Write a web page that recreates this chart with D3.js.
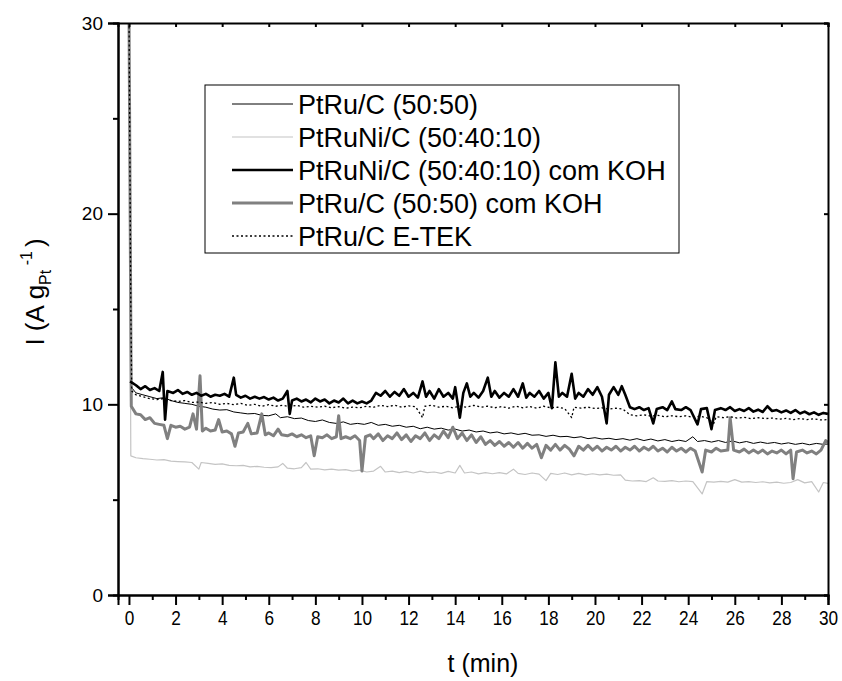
<!DOCTYPE html>
<html>
<head>
<meta charset="utf-8">
<script src="https://cdnjs.cloudflare.com/ajax/libs/d3/7.8.5/d3.min.js"></script>
<style>
  body { margin: 0; background: #fff; }
  text { font-family: "Liberation Sans", Arial, sans-serif; fill: #000; }
</style>
</head>
<body>
<div id="chart"></div>
<script>
// chart data: [t (min), I (A/gPt)]
var seriesNames = ["PtRu/C (50:50)", "PtRuNi/C (50:40:10)", "PtRuNi/C (50:40:10) com KOH", "PtRu/C (50:50) com KOH", "PtRu/C E-TEK"];

var ptru = [[0,31],[0.1,10.9],[0.3,10.6],[0.6,10.5],[0.9,10.4],[1.2,10.3],[1.5,10.35],[1.8,10.2],[2.1,10.1],[2.4,10.05],[2.7,10.0],[3.0,9.9],[3.3,9.85],[3.6,9.75],[3.9,9.7],[4.2,9.72],[4.5,9.6],[4.8,9.55],[5.1,9.5],[5.4,9.52],[5.7,9.42],[6.0,9.4],[6.3,9.5],[6.5,9.3],[6.8,9.35],[7.1,9.25],[7.4,9.28],[7.7,9.15],[8.0,9.1],[8.3,9.18],[8.6,9.05],[8.9,9.0],[9.2,9.08],[9.5,8.95],[9.8,9.0],[10.1,8.95],[10.4,9.05],[10.7,8.9],[11.0,8.95],[11.3,8.85],[11.6,8.9],[11.9,8.8],[12.2,8.85],[12.5,8.72],[12.8,8.8],[13.1,8.7],[13.4,8.75],[13.7,8.65],[14.0,8.7],[14.3,8.6],[14.6,8.65],[14.9,8.55],[15.2,8.6],[15.5,8.5],[15.8,8.55],[16.1,8.45],[16.4,8.5],[16.7,8.42],[17.0,8.48],[17.3,8.38],[17.6,8.4],[17.9,8.32],[18.2,8.38],[18.5,8.3],[18.8,8.32],[19.1,8.25],[19.4,8.3],[19.7,8.2],[20.0,8.25],[20.3,8.18],[20.6,8.22],[20.9,8.15],[21.2,8.2],[21.5,8.12],[21.8,8.2],[22.1,8.1],[22.4,8.18],[22.7,8.08],[23.0,8.15],[23.3,8.05],[23.6,8.12],[23.9,8.05],[24.2,8.3],[24.4,8.05],[24.7,8.1],[25.0,8.02],[25.3,8.1],[25.6,8.0],[25.9,8.08],[26.2,7.98],[26.5,8.05],[26.8,7.95],[27.1,8.02],[27.4,7.95],[27.7,8.0],[28.0,7.92],[28.3,7.98],[28.6,7.9],[28.9,7.96],[29.2,7.88],[29.5,7.95],[29.8,7.9],[30,7.92]];

var ptruni = [[0,31],[0.08,7.3],[0.3,7.2],[0.6,7.15],[0.9,7.12],[1.2,7.08],[1.5,7.1],[1.8,7.02],[2.1,7.0],[2.4,6.98],[2.7,6.95],[3.0,6.6],[3.1,6.95],[3.4,6.9],[3.7,6.85],[4.0,6.88],[4.3,6.8],[4.6,6.78],[4.9,6.8],[5.2,6.72],[5.5,6.75],[5.8,6.7],[6.1,6.68],[6.4,6.72],[6.6,6.9],[6.8,6.65],[7.1,6.62],[7.4,6.68],[7.6,6.95],[7.8,6.6],[8.1,6.62],[8.4,6.56],[8.7,6.6],[9.0,6.55],[9.3,6.58],[9.6,6.5],[9.9,6.55],[10.2,6.45],[10.5,6.5],[10.8,6.75],[11.0,6.45],[11.3,6.5],[11.6,6.42],[11.9,6.48],[12.2,6.4],[12.5,6.5],[12.8,6.42],[13.1,6.45],[13.4,6.38],[13.7,6.48],[14.0,6.4],[14.2,6.8],[14.4,6.4],[14.7,6.45],[15.0,6.35],[15.3,6.42],[15.6,6.36],[15.9,6.42],[16.2,6.35],[16.5,6.6],[16.7,6.38],[17.0,6.32],[17.3,6.4],[17.6,6.34],[17.9,6.0],[18.1,6.38],[18.4,6.32],[18.7,6.4],[19.0,6.3],[19.3,6.38],[19.6,6.3],[19.9,6.36],[20.2,6.3],[20.5,6.34],[20.8,6.28],[21.1,6.3],[21.3,6.02],[21.6,5.98],[21.9,6.0],[22.2,5.95],[22.5,6.15],[22.7,5.98],[23.0,5.96],[23.3,6.0],[23.6,5.94],[23.9,5.98],[24.2,5.95],[24.6,5.3],[24.8,5.95],[25.1,5.92],[25.4,5.96],[25.7,5.92],[26.0,6.05],[26.3,5.92],[26.6,5.95],[26.9,5.9],[27.2,5.94],[27.5,5.88],[27.8,5.92],[28.1,5.86],[28.4,5.9],[28.7,6.05],[29.0,5.88],[29.3,5.95],[29.6,5.4],[29.8,5.9],[30,5.85]];

var ptruniKoh = [[0.05,11.2],[0.3,11.0],[0.5,10.8],[0.7,10.95],[0.9,10.75],[1.1,10.85],[1.3,10.7],[1.45,11.7],[1.55,9.2],[1.65,10.7],[1.9,10.6],[2.1,10.75],[2.3,10.55],[2.5,10.65],[2.7,10.5],[2.9,10.6],[3.1,10.45],[3.3,10.55],[3.5,10.4],[3.7,10.5],[3.9,10.45],[4.1,10.55],[4.3,10.4],[4.5,11.4],[4.6,10.5],[4.8,10.35],[5.0,10.45],[5.2,10.3],[5.4,10.4],[5.6,10.3],[5.8,10.38],[6.0,10.25],[6.2,10.35],[6.4,10.2],[6.6,10.3],[6.8,10.7],[6.9,9.5],[7.0,10.2],[7.2,10.3],[7.4,10.15],[7.6,10.25],[7.8,10.1],[8.0,10.3],[8.2,10.15],[8.4,10.25],[8.6,10.05],[8.8,10.2],[9.0,10.1],[9.2,10.3],[9.4,10.05],[9.6,10.2],[9.8,10.05],[10.0,10.15],[10.2,10.05],[10.4,10.2],[10.6,10.6],[10.8,10.45],[11.0,10.7],[11.2,10.4],[11.4,10.65],[11.6,10.45],[11.8,10.8],[12.0,10.4],[12.2,10.6],[12.4,10.35],[12.6,11.2],[12.75,10.4],[12.9,10.7],[13.1,10.3],[13.3,10.8],[13.5,10.4],[13.7,10.6],[13.9,10.3],[14.0,10.9],[14.2,9.3],[14.35,10.6],[14.5,11.1],[14.65,10.4],[14.8,10.6],[15.0,10.35],[15.2,10.7],[15.4,11.4],[15.55,10.4],[15.7,10.7],[15.9,10.35],[16.1,10.6],[16.3,10.4],[16.5,10.8],[16.7,10.4],[16.9,11.1],[17.05,10.35],[17.2,10.6],[17.4,10.4],[17.6,10.7],[17.8,10.3],[18.0,10.6],[18.15,9.8],[18.3,12.2],[18.45,10.4],[18.6,10.6],[18.8,10.4],[19.0,11.6],[19.15,10.3],[19.3,10.6],[19.5,10.4],[19.7,10.8],[19.9,10.5],[20.1,10.9],[20.3,10.4],[20.5,9.0],[20.6,10.5],[20.8,10.9],[21.0,10.5],[21.15,10.95],[21.3,10.5],[21.5,9.85],[21.7,9.75],[21.9,9.85],[22.1,9.7],[22.3,9.8],[22.5,9.0],[22.65,9.75],[22.9,9.85],[23.1,9.7],[23.3,10.15],[23.45,9.75],[23.7,9.7],[23.9,9.85],[24.1,9.7],[24.4,8.95],[24.55,9.75],[24.8,9.8],[25.0,8.7],[25.15,9.7],[25.4,9.8],[25.6,9.7],[25.8,9.85],[26.0,9.65],[26.2,9.75],[26.4,9.65],[26.6,9.8],[26.8,9.62],[27.0,9.72],[27.2,9.6],[27.4,9.9],[27.6,9.65],[27.8,9.7],[28.0,9.58],[28.2,9.68],[28.4,9.55],[28.6,9.7],[28.8,9.52],[29.0,9.62],[29.2,9.48],[29.4,9.58],[29.6,9.45],[29.8,9.55],[30,9.5]];

var ptruKoh = [[0,31],[0.1,9.9],[0.3,9.5],[0.5,9.45],[0.7,9.2],[0.9,9.3],[1.1,9.0],[1.3,8.95],[1.5,8.9],[1.65,8.2],[1.8,8.9],[2.0,8.8],[2.2,8.85],[2.4,8.7],[2.6,8.8],[2.75,9.5],[2.9,8.7],[3.05,11.5],[3.15,8.6],[3.3,8.75],[3.5,8.6],[3.7,8.65],[3.85,9.2],[4.0,8.55],[4.2,8.6],[4.4,8.45],[4.55,7.8],[4.7,8.5],[4.9,8.55],[5.1,9.0],[5.25,8.45],[5.5,8.5],[5.7,9.5],[5.85,8.4],[6.0,8.5],[6.2,8.35],[6.4,8.7],[6.55,8.4],[6.8,8.35],[7.0,8.45],[7.2,8.3],[7.4,8.4],[7.6,8.25],[7.8,8.35],[7.95,7.3],[8.1,8.3],[8.3,8.25],[8.5,8.4],[8.7,8.2],[8.9,8.3],[9.0,9.4],[9.1,8.2],[9.3,8.3],[9.5,8.2],[9.7,8.35],[9.9,8.1],[10.0,6.5],[10.15,8.3],[10.35,8.4],[10.5,8.2],[10.7,8.45],[10.9,8.1],[11.1,8.35],[11.3,8.2],[11.5,8.5],[11.7,8.15],[11.9,8.4],[12.1,8.05],[12.3,8.35],[12.5,8.2],[12.7,8.5],[12.9,8.1],[13.1,8.4],[13.3,8.2],[13.5,8.6],[13.7,8.25],[13.9,8.8],[14.1,8.2],[14.3,8.5],[14.5,8.1],[14.7,8.4],[14.9,8.0],[15.1,8.3],[15.3,7.9],[15.5,8.1],[15.7,7.85],[15.9,8.05],[16.1,7.8],[16.3,8.0],[16.5,7.75],[16.7,8.0],[16.9,7.7],[17.1,7.95],[17.3,7.7],[17.5,7.9],[17.7,7.2],[17.9,7.85],[18.1,7.6],[18.3,7.9],[18.5,7.6],[18.7,7.85],[18.9,7.65],[19.1,7.3],[19.3,7.8],[19.5,7.6],[19.7,7.85],[19.9,7.6],[20.1,7.8],[20.3,7.55],[20.5,7.75],[20.7,7.6],[20.9,7.8],[21.1,7.55],[21.3,7.75],[21.5,7.6],[21.7,7.8],[21.9,7.55],[22.1,7.75],[22.3,7.6],[22.5,7.8],[22.7,7.55],[22.9,7.7],[23.1,7.5],[23.3,7.75],[23.5,7.55],[23.7,7.7],[23.9,7.5],[24.1,7.7],[24.3,7.55],[24.6,6.45],[24.75,7.6],[25.0,7.5],[25.2,7.7],[25.4,7.55],[25.7,7.6],[25.8,9.3],[25.95,7.6],[26.2,7.5],[26.4,7.65],[26.6,7.45],[26.8,7.6],[27.0,7.45],[27.2,7.6],[27.4,7.4],[27.6,7.55],[27.8,7.45],[28.0,7.6],[28.2,7.4],[28.4,7.6],[28.5,6.1],[28.65,7.5],[28.9,7.6],[29.1,7.45],[29.3,7.55],[29.5,7.4],[29.7,7.6],[29.9,8.1],[30,8.0]];

var etek = [[0,31],[0.08,15],[0.12,10.7],[0.3,10.5],[0.6,10.4],[0.9,10.3],[1.2,10.25],[1.5,10.3],[1.8,10.2],[2.1,10.15],[2.4,10.2],[2.7,10.1],[3.0,10.12],[3.3,10.05],[3.6,10.1],[3.9,10.0],[4.2,10.05],[4.5,9.98],[4.8,10.05],[5.1,9.95],[5.4,10.0],[5.7,9.9],[6.0,9.98],[6.3,9.9],[6.6,9.95],[6.9,9.88],[7.2,9.95],[7.5,9.85],[7.8,9.9],[8.1,9.85],[8.4,9.9],[8.7,9.82],[9.0,9.88],[9.3,9.8],[9.6,9.85],[9.9,9.82],[10.2,9.9],[10.5,9.85],[10.8,9.95],[11.1,9.88],[11.4,9.95],[11.7,9.85],[12.0,9.92],[12.3,9.88],[12.6,9.3],[12.7,9.9],[13.0,9.95],[13.3,9.85],[13.6,9.9],[13.9,9.82],[14.2,9.9],[14.5,9.85],[14.8,9.95],[15.1,9.85],[15.4,9.9],[15.7,9.82],[16.0,9.88],[16.3,9.8],[16.6,9.9],[16.9,9.82],[17.2,9.88],[17.5,9.8],[17.8,9.9],[18.1,9.82],[18.4,9.85],[18.7,9.78],[19.0,9.3],[19.1,9.85],[19.4,9.8],[19.7,9.85],[20.0,9.78],[20.3,9.82],[20.6,9.75],[20.9,9.8],[21.2,9.75],[21.5,9.45],[21.8,9.4],[22.1,9.45],[22.4,9.38],[22.7,9.42],[23.0,9.35],[23.3,9.4],[23.6,9.35],[23.9,9.4],[24.2,9.32],[24.5,9.38],[24.8,9.3],[25.1,9.0],[25.2,9.35],[25.5,9.3],[25.8,9.35],[26.1,9.28],[26.4,9.32],[26.7,9.25],[27.0,9.3],[27.3,9.25],[27.6,9.28],[27.9,9.22],[28.2,9.26],[28.5,9.2],[28.8,9.25],[29.1,9.2],[29.4,9.24],[29.7,9.18],[30,9.2]];

var xTicks = [0,2,4,6,8,10,12,14,16,18,20,22,24,26,28,30];
var xMinor = [1,3,5,7,9,11,13,15,17,19,21,23,25,27,29];
var yTicks = [0,10,20,30];
var yMinor = [5,15,25];

var width = 842, height = 681;
var margin = { top: 23, right: 14, bottom: 86, left: 118 };
var iw = width - margin.left - margin.right;
var ih = height - margin.top - margin.bottom;

var svg = d3.select("#chart").append("svg")
    .attr("width", width)
    .attr("height", height);

var g = svg.append("g")
    .attr("transform", "translate(" + margin.left + "," + margin.top + ")");

var x = d3.scaleLinear().domain([-0.47, 30]).range([0, iw]);
var y = d3.scaleLinear().domain([0, 30]).range([ih, 0]);

g.append("clipPath").attr("id", "clip")
  .append("rect").attr("width", iw).attr("height", ih);

// line styles, drawing order bottom to top
var styles = [
  { data: ptru,      color: "#000",    w: 1,   dash: null },
  { data: ptruni,    color: "#c4c4c4", w: 1.2, dash: null },
  { data: ptruKoh,   color: "#808080", w: 3,   dash: null },
  { data: etek,      color: "#000",    w: 1.3, dash: "2,2.5" },
  { data: ptruniKoh, color: "#000",    w: 2.6, dash: null }
];

var line = d3.line()
    .x(function(d) { return x(d[0]); })
    .y(function(d) { return y(d[1]); });

var plot = g.append("g").attr("clip-path", "url(#clip)");
styles.forEach(function(s) {
  plot.append("path")
    .attr("d", line(s.data))
    .attr("fill", "none")
    .attr("stroke", s.color)
    .attr("stroke-width", s.w)
    .attr("stroke-linejoin", "round")
    .attr("stroke-dasharray", s.dash);
});

// axes
var xAxis = g.append("g")
    .attr("transform", "translate(0," + ih + ")")
    .call(d3.axisBottom(x).tickValues(xTicks).tickSize(10).tickPadding(5));
g.append("g").attr("transform", "translate(0," + ih + ")")
    .call(d3.axisBottom(x).tickValues(xMinor).tickSize(5).tickFormat(""));

var yAxis = g.append("g")
    .call(d3.axisLeft(y).tickValues(yTicks).tickSize(10).tickPadding(5));
g.append("g")
    .call(d3.axisLeft(y).tickValues(yMinor).tickSize(5).tickFormat(""));

// top and right frame with small inner ticks
g.append("g")
    .call(d3.axisTop(x).tickValues(xTicks).tickSize(-4).tickFormat(""));
g.append("g").attr("transform", "translate(" + iw + ",0)")
    .call(d3.axisRight(y).tickValues(yTicks).tickSize(-4).tickFormat(""));

g.selectAll(".domain").attr("stroke", "#000").attr("stroke-width", 2);
g.selectAll(".tick line").attr("stroke", "#000").attr("stroke-width", 2);
yAxis.selectAll(".tick text").style("font-size", "19px");
xAxis.selectAll(".tick text")
    .style("font-size", "21px")
    .attr("transform", "scale(0.82,1)");

// axis titles
svg.append("text")
    .attr("x", 483)
    .attr("y", 672)
    .attr("text-anchor", "middle")
    .style("font-size", "25px")
    .text("t (min)");

var yl = svg.append("text")
    .attr("transform", "translate(44,292) rotate(-90)")
    .attr("text-anchor", "middle")
    .style("font-size", "26px");
yl.append("tspan").text("I (A g");
yl.append("tspan").attr("dy", 7).style("font-size", "16px").text("Pt");
yl.append("tspan").attr("dy", -19).style("font-size", "16px").text(" -1");
yl.append("tspan").attr("dy", 12).attr("dx", 4).text(")");

// legend
var legendOrder = [
  { name: seriesNames[0], color: "#000",    w: 1,   dash: null },
  { name: seriesNames[1], color: "#c4c4c4", w: 1.2, dash: null },
  { name: seriesNames[2], color: "#000",    w: 2.6, dash: null },
  { name: seriesNames[3], color: "#808080", w: 3,   dash: null },
  { name: seriesNames[4], color: "#000",    w: 1.3, dash: "2,2.5" }
];

var lg = svg.append("g").attr("transform", "translate(205,85)");
lg.append("rect")
    .attr("width", 474).attr("height", 168)
    .attr("fill", "#fff").attr("stroke", "#000").attr("stroke-width", 1);

var rows = lg.selectAll("g.row").data(legendOrder).enter()
  .append("g").attr("class", "row")
  .attr("transform", function(d, i) { return "translate(0," + (19 + i * 33) + ")"; });

rows.append("line")
    .attr("x1", 27).attr("x2", 88)
    .attr("stroke", function(d) { return d.color; })
    .attr("stroke-width", function(d) { return d.w; })
    .attr("stroke-dasharray", function(d) { return d.dash; });

rows.append("text")
    .attr("x", 93).attr("dy", "0.36em")
    .style("font-size", "27px")
    .text(function(d) { return d.name; });
</script>
</body>
</html>
